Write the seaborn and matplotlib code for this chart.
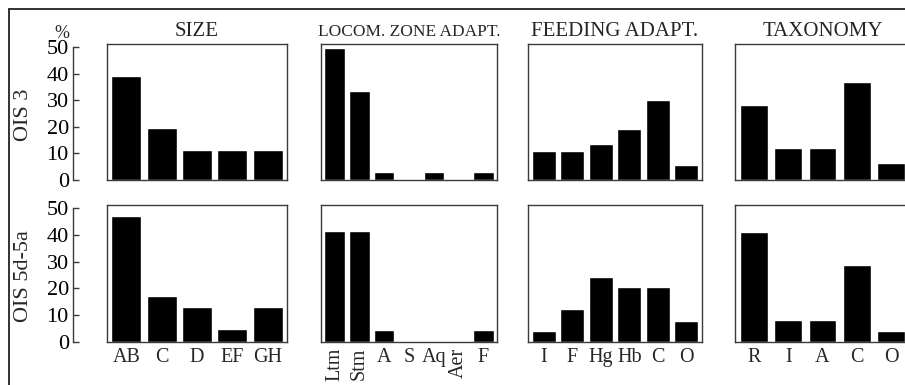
import matplotlib
matplotlib.use("Agg")
import matplotlib.pyplot as plt
import seaborn as sns
import pandas as pd
from matplotlib.lines import Line2D

# ---- data ----
size_cats = ["AB", "C", "D", "EF", "GH"]
size_ois3 = [39.3, 19.7, 11.3, 11.3, 11.3]
size_ois5 = [46.9, 17.1, 13.0, 4.9, 13.0]

locom_cats = ["Ltm", "Stm", "A", "S", "Aq", "Aer", "F"]
locom_ois3 = [49.6, 33.6, 3.0, 0.0, 3.0, 0.0, 3.0]
locom_ois5 = [41.5, 41.5, 4.4, 0.0, 0.0, 0.0, 4.4]

feed_cats = ["I", "F", "Hg", "Hb", "C", "O"]
feed_ois3 = [10.9, 10.9, 13.6, 19.2, 30.1, 5.6]
feed_ois5 = [4.0, 12.2, 24.2, 20.5, 20.5, 7.8]

tax_cats = ["R", "I", "A", "C", "O"]
tax_ois3 = [28.3, 12.1, 12.1, 36.9, 6.4]
tax_ois5 = [41.1, 8.1, 8.1, 28.7, 4.0]

titles = ["SIZE", "LOCOM. ZONE ADAPT.", "FEEDING ADAPT.", "TAXONOMY"]
row_labels = ["OIS 3", "OIS 5d-5a"]
y_ticks = [0, 10, 20, 30, 40, 50]
rotated_labels = {"Ltm", "Stm", "Aer"}

groups = [
    (size_cats, size_ois3, size_ois5),
    (locom_cats, locom_ois3, locom_ois5),
    (feed_cats, feed_ois3, feed_ois5),
    (tax_cats, tax_ois3, tax_ois5),
]

sns.set_theme(style="white")
plt.rcParams["font.family"] = ["Liberation Serif", "DejaVu Serif"]

W, H = 905, 385
fig = plt.figure(figsize=(W / 100, H / 100), dpi=100)

# panel pixel geometry
cols_px = [(107, 287), (321, 497), (528, 702), (735, 910)]
rows_px = [(44, 180), (205, 342)]
bar_widths = [0.85, 0.83, 0.84, 0.80]
YMAX = 51.15
frame_col = "#3a3a3a"

def fig_rect(x0, x1, y0, y1):
    return [x0 / W, 1 - y1 / H, (x1 - x0) / W, (y1 - y0) / H]

for r, (ytop, ybot) in enumerate(rows_px):
    # separate y axis
    yax = fig.add_axes(fig_rect(73, 74, ytop, ybot))
    yax.set_ylim(0, YMAX)
    yax.set_xticks([])
    yax.set_yticks(y_ticks)
    yax.set_yticklabels([str(t) for t in y_ticks], fontsize=16)
    for s in ["top", "right", "bottom"]:
        yax.spines[s].set_visible(False)
    yax.spines["left"].set_bounds(0, 50)
    yax.spines["left"].set_color(frame_col)
    yax.spines["left"].set_linewidth(1.0)
    yax.tick_params(axis="y", direction="in", length=4, width=1.0,
                    colors=frame_col, labelcolor="black", pad=3, left=True)
    yax.patch.set_visible(False)

    for c, (cats, v3, v5) in enumerate(groups):
        x0, x1 = cols_px[c]
        ax = fig.add_axes(fig_rect(x0, x1, ytop, ybot))
        vals = v3 if r == 0 else v5
        df = pd.DataFrame({"cat": cats, "val": vals})
        sns.barplot(data=df, x="cat", y="val", color="black", saturation=1,
                    width=bar_widths[c], ax=ax, order=cats)
        ax.set_ylim(0, YMAX)
        n = len(cats)
        ax.set_xlim(-0.55, n - 0.45)
        ax.set_yticks([])
        ax.set_xlabel("")
        ax.set_ylabel("")
        for s in ax.spines.values():
            s.set_visible(True)
            s.set_color(frame_col)
            s.set_linewidth(1.0)
        ax.tick_params(axis="x", length=0, pad=4)
        if r == 0:
            ax.set_xticklabels([])
            ax.set_title(titles[c], fontsize=12.5 if c == 1 else 15, pad=6)
        else:
            labs = ax.get_xticklabels()
            for lab in labs:
                lab.set_fontsize(14.5)
                if lab.get_text() in rotated_labels:
                    lab.set_rotation(90)
                    lab.set_va("top")
                    lab.set_ha("center")

    # row label
    fig.text(24 / W, 1 - ((ytop + ybot) / 2 + 3) / H, row_labels[r],
             rotation=90, ha="center", va="center", fontsize=16)

fig.text(62 / W, 1 - 33 / H, "%", ha="center", va="center", fontsize=13)

# outer frame (left and top edges)
fig.add_artist(Line2D([8.5 / W, 8.5 / W], [0, 1 - 9 / H],
                      transform=fig.transFigure, color="#222222", lw=1.3))
fig.add_artist(Line2D([8.5 / W, 1], [1 - 9 / H, 1 - 9 / H],
                      transform=fig.transFigure, color="#222222", lw=1.3))

fig.savefig("out.png", dpi=100)
